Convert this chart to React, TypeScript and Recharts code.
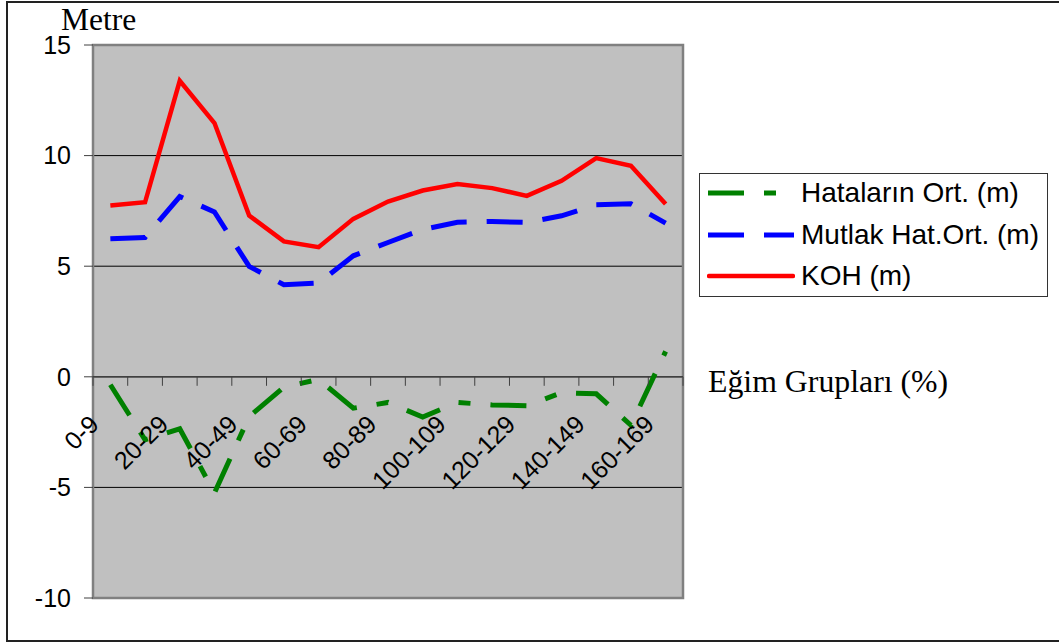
import React from 'react';
import {
  LineChart,
  Line,
  XAxis,
  YAxis,
  CartesianGrid,
  ReferenceLine,
  ReferenceArea,
} from 'recharts';

const categories = [
  '0-9', '10-19', '20-29', '30-39', '40-49', '50-59', '60-69', '70-79', '80-89',
  '90-99', '100-109', '110-119', '120-129', '130-139', '140-149', '150-159', '160-169',
];
const hatalarinOrt = [
  -0.36, -2.85, -2.35, -5.25, -1.8, -0.47, -0.12, -1.42, -1.16,
  -1.82, -1.16, -1.27, -1.31, -0.72, -0.77, -2.19, 1.15,
];
const mutlakHatOrt = [
  6.24, 6.3, 8.15, 7.45, 4.99, 4.16, 4.24, 5.47, 6.07,
  6.66, 6.99, 7.02, 6.98, 7.28, 7.78, 7.82, 6.95,
];
const koh = [
  7.74, 7.89, 13.38, 11.47, 7.29, 6.12, 5.86, 7.14, 7.92,
  8.42, 8.71, 8.53, 8.18, 8.86, 9.89, 9.54, 7.81,
];
const yTicks = [-10, -5, 0, 5, 10, 15];

const data = categories.map((c, i) => ({
  group: c,
  hata: hatalarinOrt[i],
  mutlak: mutlakHatOrt[i],
  koh: koh[i],
}));

const W = 1059;
const H = 643;
const PLOT_LEFT = 93;
const PLOT_TOP = 45;
const PLOT_RIGHT = 683;
const PLOT_BOTTOM = 598;
const X_AXIS_H = 30;
const Y_MIN = -10;
const Y_MAX = 15;
const ZERO_Y = PLOT_TOP + ((PLOT_BOTTOM - PLOT_TOP) * Y_MAX) / (Y_MAX - Y_MIN);
const BAND = (PLOT_RIGHT - PLOT_LEFT) / categories.length;

const SANS = '"Liberation Sans", Arial, sans-serif';
const SERIF = '"Liberation Serif", "Times New Roman", serif';

const SERIES = [
  { key: 'hata', name: 'Hataların Ort. (m)', color: '#008000', dash: '36 20 12 20', width: 5 },
  { key: 'mutlak', name: 'Mutlak Hat.Ort. (m)', color: '#0000FF', dash: '36 20', width: 5 },
  { key: 'koh', name: 'KOH (m)', color: '#FF0000', dash: undefined, width: 4.5 },
];

// category ticks sit on the zero line, labels on every other group
const GroupTick = (props: any) => {
  const { x, index } = props;
  const half = BAND / 2;
  const last = index === categories.length - 1;
  const lx = x - 10;
  const ly = ZERO_Y + 49;
  return (
    <g>
      <line x1={x - half} x2={x - half} y1={ZERO_Y} y2={ZERO_Y + 9} stroke="#404040" />
      {last && <line x1={x + half} x2={x + half} y1={ZERO_Y} y2={ZERO_Y + 9} stroke="#404040" />}
      {index % 2 === 0 && (
        <text
          x={lx}
          y={ly}
          transform={`rotate(-45, ${lx}, ${ly})`}
          textAnchor="end"
          fontSize={25}
          fontFamily={SANS}
          fill="#000"
        >
          {props.payload.value}
        </text>
      )}
    </g>
  );
};

const LegendBox = () => (
  <div
    style={{
      position: 'absolute',
      left: 699,
      top: 173,
      width: 349,
      height: 124,
      border: '1.5px solid #333',
      background: '#fff',
      boxSizing: 'border-box',
    }}
  >
    {SERIES.map((s, i) => (
      <div
        key={s.key}
        style={{ position: 'absolute', left: 7, top: 19 + i * 41.5 - 16, height: 32, display: 'flex', alignItems: 'center' }}
      >
        <svg width={88} height={10} style={{ display: 'block' }}>
          <line
            x1={s.dash ? 1 : 2}
            x2={s.dash ? 87 : 86}
            y1={5}
            y2={5}
            stroke={s.color}
            strokeWidth={s.width}
            strokeDasharray={s.dash}
            strokeLinecap={s.dash ? 'butt' : 'round'}
          />
        </svg>
        <span style={{ marginLeft: 6, fontFamily: SANS, fontSize: 28, color: '#000', whiteSpace: 'nowrap' }}>
          {s.name}
        </span>
      </div>
    ))}
  </div>
);

export default function App() {
  return (
    <div style={{ position: 'absolute', left: 0, top: 0, width: W, height: H, overflow: 'hidden', background: '#fff' }}>
      <div
        style={{
          position: 'absolute',
          left: 6,
          top: 1,
          width: W + 10,
          height: 641,
          border: '2px solid #222',
          boxSizing: 'border-box',
        }}
      />
      <LineChart
        width={W}
        height={H}
        data={data}
        margin={{ top: PLOT_TOP, right: W - PLOT_RIGHT, bottom: H - PLOT_BOTTOM - X_AXIS_H, left: 0 }}
        style={{ position: 'absolute', left: 0, top: 0 }}
      >
        <CartesianGrid horizontal vertical={false} stroke="#000" strokeWidth={1} fill="#C0C0C0" fillOpacity={1} />
        <XAxis
          dataKey="group"
          scale="band"
          interval={0}
          height={X_AXIS_H}
          axisLine={false}
          tickLine={false}
          tick={<GroupTick />}
        />
        <YAxis
          type="number"
          domain={[Y_MIN, Y_MAX]}
          ticks={yTicks}
          width={PLOT_LEFT}
          tickSize={9}
          tickMargin={13}
          axisLine={false}
          tickLine={{ stroke: '#404040' }}
          tick={{ fontSize: 25, fontFamily: SANS, fill: '#000' }}
          label={{
            content: () => (
              <text x={61} y={30} fontFamily={SERIF} fontSize={31.5} fill="#000">
                Metre
              </text>
            ),
          }}
        />
        <ReferenceLine y={0} stroke="#404040" strokeWidth={1.5} />
        <ReferenceArea y1={Y_MIN} y2={Y_MAX} fill="none" stroke="#808080" strokeWidth={2.5} />
        {SERIES.map((s) => (
          <Line
            key={s.key}
            type="linear"
            dataKey={s.key}
            name={s.name}
            stroke={s.color}
            strokeWidth={s.width}
            strokeDasharray={s.dash}
            dot={false}
            activeDot={false}
            isAnimationActive={false}
          />
        ))}
      </LineChart>
      <LegendBox />
      <div
        style={{
          position: 'absolute',
          left: 708,
          top: 364,
          fontFamily: SERIF,
          fontSize: 31.8,
          lineHeight: '36px',
          color: '#000',
          whiteSpace: 'nowrap',
        }}
      >
        Eğim Grupları (%)
      </div>
    </div>
  );
}
